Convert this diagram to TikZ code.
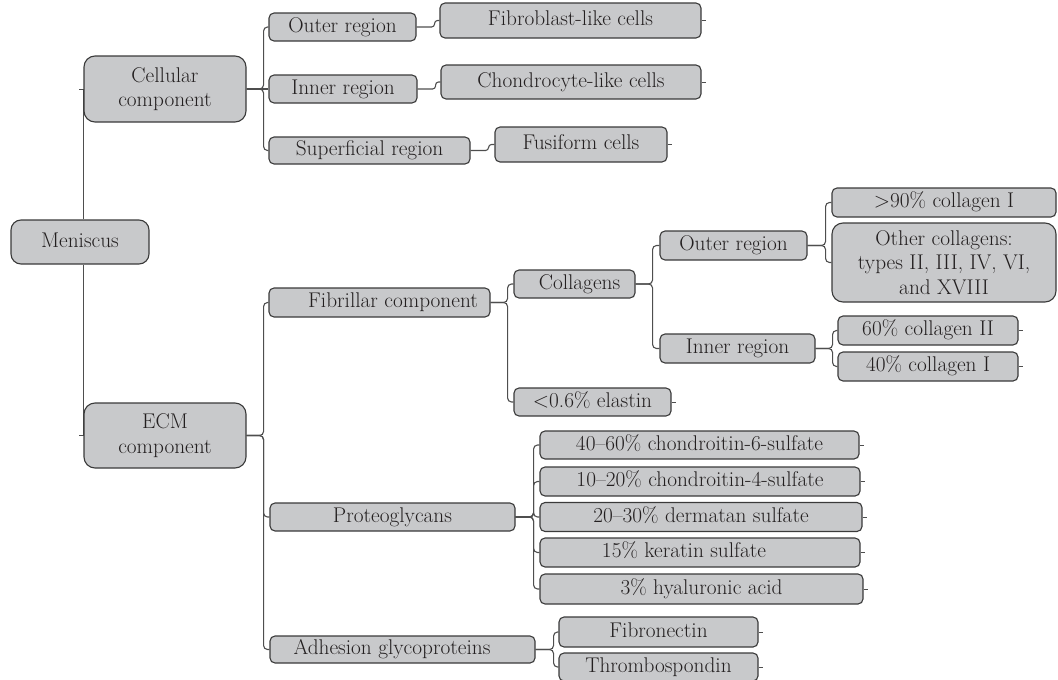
\documentclass[tikz,border=0pt]{standalone}
\usepackage{fontspec}
\usetikzlibrary{backgrounds}
\definecolor{boxc}{RGB}{200,201,203}
\definecolor{bordc}{RGB}{58,58,58}
\definecolor{linec}{RGB}{78,78,78}
\definecolor{txtc}{RGB}{35,31,32}
\newcommand\nodefont{\fontsize{21.3pt}{24.5pt}\selectfont\addfontfeature{FakeBold=0.5}}
\begin{document}
\begin{tikzpicture}[x=1pt,y=-1pt,
  bx/.style={draw=bordc, fill=boxc, line width=1.1pt, rounded corners=5pt, inner sep=0pt, text=txtc, font=\nodefont},
  one/.style={bx, text height=14.6pt, text depth=4.5pt},
  big/.style={bx, rounded corners=11pt, align=center},
  con/.style={draw=linec, line width=1.1pt, rounded corners=4pt},
  stub/.style={draw=linec, line width=1pt}]

\path[use as bounding box] (0,0) rectangle (1058,680);

% level 0-1
\node[one, rounded corners=10pt, minimum width=138pt, minimum height=44pt] (men) at (80,242) {Meniscus};
\node[big, minimum width=162pt, minimum height=66pt] (cell) at (165,89) {Cellular\\component};
\node[big, minimum width=162pt, minimum height=65pt] (ecm) at (165,435.5) {ECM\\component};

% cellular subtree
\node[one, minimum width=147pt, minimum height=28pt] (cout) at (342.5,27) {Outer region};
\node[one, minimum width=148pt, minimum height=28pt] (cin) at (343,89) {Inner region};
\node[one, minimum width=201pt, minimum height=27pt] (csup) at (369.5,150.5) {Superficial region};
\node[one, minimum width=261pt, minimum height=35pt] (fib) at (570.5,20.5) {Fibroblast-like cells};
\node[one, minimum width=260pt, minimum height=34pt] (chon) at (571,82) {Chondrocyte-like cells};
\node[one, minimum width=172pt, minimum height=35pt] (fus) at (581,144.5) {Fusiform cells};

% ECM subtree
\node[one, minimum width=221pt, minimum height=29pt] (fibr) at (379.5,302.5) {\hspace*{27pt}Fibrillar component};
\node[one, minimum width=245pt, minimum height=28pt] (prot) at (392.5,517) {Proteoglycans};
\node[one, minimum width=265pt, minimum height=27pt] (adh) at (402.5,649.5) {Adhesion glycoproteins\hspace*{21pt}};

\node[one, minimum width=121pt, minimum height=28pt] (coll) at (574.5,284) {\hspace*{10pt}Collagens};
\node[one, minimum width=157pt, minimum height=28pt] (elas) at (592.5,402) {<0.6\% elastin};
\node[one, minimum width=147pt, minimum height=29pt] (oout) at (733.5,245.5) {Outer region};
\node[one, minimum width=155pt, minimum height=29pt] (oin) at (737.5,348.5) {Inner region};
\node[one, minimum width=224pt, minimum height=29pt] (g90) at (944,202.5) {>90\% collagen I};
\node[big, minimum width=224pt, minimum height=79pt] (oth) at (944,262.5) {Other collagens:\\types II, III, IV, VI,\\and XVIII};
\node[one, minimum width=180pt, minimum height=29pt] (c60) at (928,330.5) {60\% collagen II};
\node[one, minimum width=180pt, minimum height=29pt] (c40) at (928,366.5) {40\% collagen I};

\node[one, minimum width=319pt, minimum height=28pt] (p1) at (699.5,445) {40--60\% chondroitin-6-sulfate};
\node[one, minimum width=320pt, minimum height=29pt] (p2) at (700,481.5) {10--20\% chondroitin-4-sulfate};
\node[one, minimum width=322pt, minimum height=29pt] (p3) at (701,517) {20--30\% dermatan sulfate};
\node[one, minimum width=320pt, minimum height=29pt] (p4) at (700,552.5) {15\% keratin sulfate\hspace*{32pt}};
\node[one, minimum width=323pt, minimum height=30pt] (p5) at (701.5,589) {3\% hyaluronic acid};

\node[one, minimum width=199pt, minimum height=30pt] (fn) at (658.5,632) {Fibronectin};
\node[one, minimum width=199pt, minimum height=28pt] (th) at (658.5,667) {Thrombospondin};

\begin{scope}[on background layer]
  \draw[con] (men.north -| cell.west) -- (cell.west);
  \draw[con] (men.south -| ecm.west) -- (ecm.west);

  \draw[con] (cell.east) -- ++(17,0) |- (cout.west);
  \draw[con] (cell.east) -- (cin.west);
  \draw[con] (cell.east) -- ++(17,0) |- (csup.west);

  \draw[con, rounded corners=3pt] (cout.east) -- ++(18,0) |- (fib.west);
  \draw[con, rounded corners=3pt] (cin.east) -- ++(18,0) |- (chon.west);
  \draw[con, rounded corners=3pt] (csup.east) -- ++(18,0) |- (fus.west);

  \draw[con] (ecm.east) -- ++(17,0) |- (fibr.west);
  \draw[con] (ecm.east) -- ++(17,0) |- (prot.west);
  \draw[con] (ecm.east) -- ++(17,0) |- (adh.west);

  \draw[con] (fibr.east) -- ++(17,0) |- (coll.west);
  \draw[con] (fibr.east) -- ++(17,0) |- (elas.west);

  \draw[con] (coll.east) -- ++(17,0) |- (oout.west);
  \draw[con] (coll.east) -- ++(17,0) |- (oin.west);

  \draw[con] (oout.east) -- ++(18,0) |- (g90.west);
  \draw[con] (oout.east) -- ++(18,0) |- (oth.west);

  \draw[con] (oin.east) -- ++(17,0) |- (c60.west);
  \draw[con] (oin.east) -- ++(17,0) |- (c40.west);

  \foreach \n in {p1,p2,p3,p4,p5}
    \draw[con] (prot.east) -- ++(18,0) |- (\n.west);

  \draw[con] (adh.east) -- ++(18,0) |- (fn.west);
  \draw[con] (adh.east) -- ++(18,0) |- (th.west);

  % small stubs
  \draw[stub] (cell.west) -- ++(-4,0);
  \draw[stub] (ecm.west) -- ++(-4,0);
  \foreach \n in {fib,chon,fus,elas,c60,c40,p1,p2,p3,p4,p5,fn,th}
    \draw[stub] (\n.east) -- ++(4,0);
\end{scope}
\end{tikzpicture}
\end{document}
